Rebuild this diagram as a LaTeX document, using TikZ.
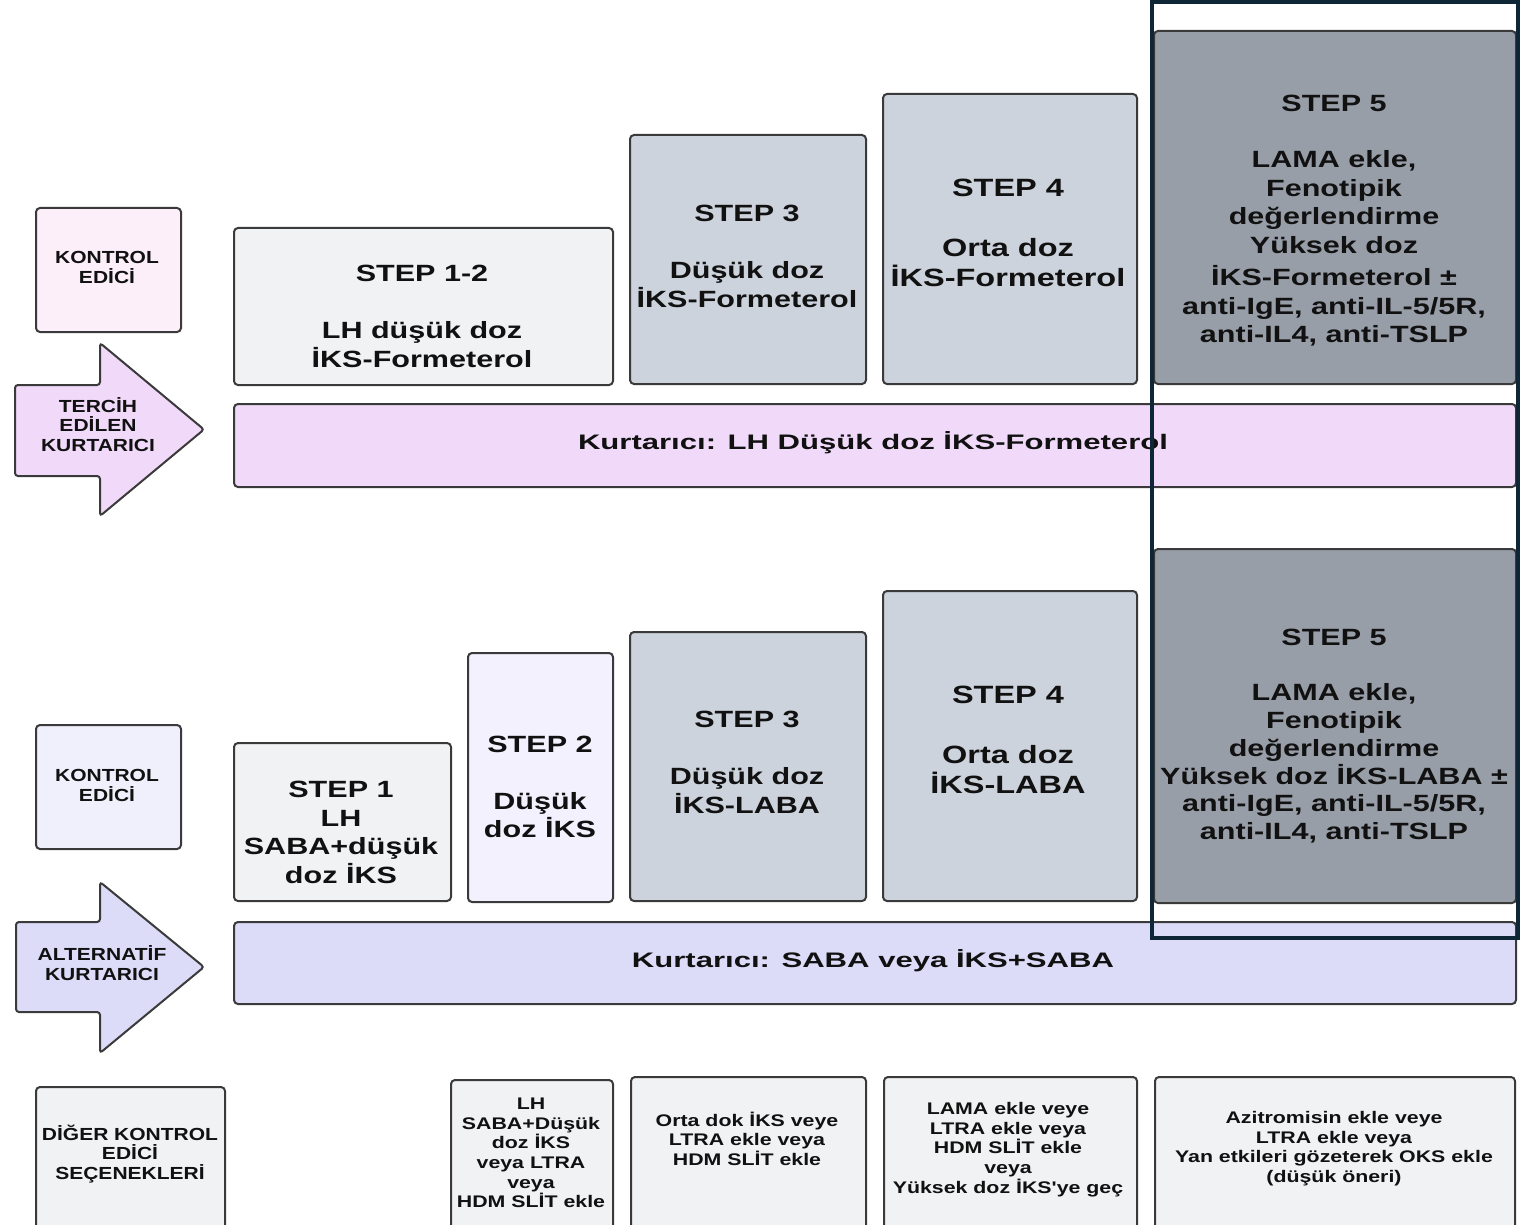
\documentclass[tikz,border=0pt]{standalone}
\usepackage{fontspec}
\setmainfont{Liberation Sans}
\newfontfamily\boxfnt{Liberation Sans}[FakeStretch=1.3]
\newfontfamily\barfnt{Liberation Sans}[FakeStretch=1.48]
\newfontfamily\smlfnt{Liberation Sans}[FakeStretch=1.27]
\newfontfamily\lblfnt{Liberation Sans}[FakeStretch=1.2]
\definecolor{bordc}{HTML}{3A3A3A}
\definecolor{pinkbox}{HTML}{FCEFFA}
\definecolor{pinkbar}{HTML}{F1D9F9}
\definecolor{bluebox}{HTML}{F0F0FD}
\definecolor{bluebar}{HTML}{DCDCF9}
\definecolor{lgray}{HTML}{F1F2F4}
\definecolor{steptwo}{HTML}{F2F1FD}
\definecolor{mgray}{HTML}{CDD3DC}
\definecolor{dgray}{HTML}{989EA8}
\definecolor{framec}{HTML}{0E2636}
\definecolor{txtc}{HTML}{111111}
\tikzset{
  bx/.style={draw=bordc, line width=2pt, rounded corners=4pt, inner sep=0pt, anchor=north west},
  stxt/.style={font=\boxfnt\bfseries\fontsize{23.5}{28.5}\selectfont, align=center, text=txtc, inner sep=0pt},
  stxtc/.style={font=\boxfnt\bfseries\fontsize{23.5}{27.7}\selectfont, align=center, text=txtc, inner sep=0pt},
  stxtb/.style={font=\boxfnt\bfseries\fontsize{25}{30}\selectfont, align=center, text=txtc, inner sep=0pt},
  bartxt/.style={font=\barfnt\bfseries\fontsize{21}{25}\selectfont, align=center, text=txtc, inner sep=0pt},
  smtxt/.style={font=\smlfnt\bfseries\fontsize{16.8}{19.6}\selectfont, align=center, text=txtc, inner sep=0pt},
  lbtxt/.style={font=\lblfnt\bfseries\fontsize{17.5}{19.3}\selectfont, align=center, text=txtc, inner sep=0pt},
  arr/.style={draw=bordc, line width=2pt, rounded corners=3pt},
}
\begin{document}
\begin{tikzpicture}[x=1pt,y=-1pt]
\useasboundingbox (0,0) rectangle (1532,1225);
\fill[white] (0,0) rectangle (1532,1225);
\clip (0,0) rectangle (1532,1225);

% ---------- upper panel ----------
\node[bx, fill=pinkbox, minimum width=145, minimum height=124] (kc1) at (35,207) {};
\node[lbtxt] (kc1t) at (107,267.5) {KONTROL\\EDİCİ};

\draw[arr, fill=pinkbar] (15,385) -- (100,385) -- (100,343) -- (204,429.5) -- (100,516) -- (100,476) -- (15,476) -- cycle;
\node[lbtxt] (terc) at (98,424.5) {TERCİH\\EDİLEN\\KURTARICI};

\node[bx, fill=lgray, minimum width=379, minimum height=157] (s12) at (233,227) {};
\node[stxt] (s12t) at (422,316.5) {STEP 1-2\\[28.5pt]LH düşük doz\\İKS-Formeterol};

\node[bx, fill=mgray, minimum width=236, minimum height=249] (s3a) at (629,134) {};
\node[stxt] (s3at) at (747,256.5) {STEP 3\\[28.5pt]Düşük doz\\İKS-Formeterol};

\node[bx, fill=mgray, minimum width=254, minimum height=290] (s4a) at (882,93) {};
\node[stxtb] (s4at) at (1008,233) {STEP 4\\[30pt]Orta doz\\İKS-Formeterol};

\node[bx, fill=dgray, minimum width=362, minimum height=353] (s5a) at (1153,30) {};
\node[stxt] (s5at) at (1334,220.5) {STEP 5\\[28pt]LAMA ekle,\\Fenotipik\\değerlendirme\\Yüksek doz\\[4pt]İKS-Formeterol ±\\anti-IgE, anti-IL-5/5R,\\anti-IL4, anti-TSLP};

\node[bx, fill=pinkbar, minimum width=1282, minimum height=83] (bar1) at (233,403) {};
\node[bartxt] (bar1t) at (873,443) {Kurtarıcı: LH Düşük doz İKS-Formeterol};

% ---------- lower panel ----------
\node[bx, fill=bluebox, minimum width=145, minimum height=124] (kc2) at (35,724) {};
\node[lbtxt] (kc2t) at (107,785.5) {KONTROL\\EDİCİ};

\draw[arr, fill=bluebar] (16,922) -- (100,922) -- (100,882) -- (204,967) -- (100,1053) -- (100,1012) -- (16,1012) -- cycle;
\node[lbtxt] (alt) at (102,963) {ALTERNATİF\\KURTARICI};

\node[bx, fill=lgray, minimum width=217, minimum height=158] (s1) at (233,742) {};
\node[stxt] (s1t) at (341,832.5) {STEP 1\\LH\\SABA+düşük\\doz İKS};

\node[bx, fill=steptwo, minimum width=145, minimum height=249] (s2) at (467,652) {};
\node[stxt] (s2t) at (540,787) {STEP 2\\[28.5pt]Düşük\\doz İKS};

\node[bx, fill=mgray, minimum width=236, minimum height=269] (s3b) at (629,631) {};
\node[stxt] (s3bt) at (747,762.5) {STEP 3\\[28.5pt]Düşük doz\\İKS-LABA};

\node[bx, fill=mgray, minimum width=254, minimum height=310] (s4b) at (882,590) {};
\node[stxtb] (s4bt) at (1008,740) {STEP 4\\[30pt]Orta doz\\İKS-LABA};

\node[bx, fill=dgray, minimum width=362, minimum height=354] (s5b) at (1153,548) {};
\node[stxtc] (s5bt) at (1334,736) {STEP 5\\[28pt]LAMA ekle,\\Fenotipik\\değerlendirme\\Yüksek doz İKS-LABA ±\\anti-IgE, anti-IL-5/5R,\\anti-IL4, anti-TSLP};

\node[bx, fill=bluebar, minimum width=1282, minimum height=82] (bar2) at (233,921) {};
\node[bartxt] (bar2t) at (873,961) {Kurtarıcı: SABA veya İKS+SABA};

% ---------- other controller options ----------
\node[bx, fill=lgray, minimum width=189, minimum height=160] (dg) at (35,1086) {};
\node[lbtxt] (dgt) at (130,1154) {DİĞER KONTROL\\EDİCİ\\SEÇENEKLERİ};

\node[bx, fill=lgray, minimum width=162, minimum height=170] (o2) at (450,1079) {};
\node[smtxt] (o2t) at (531,1153) {LH\\SABA+Düşük\\doz İKS\\veya LTRA\\veya\\HDM SLİT ekle};

\node[bx, fill=lgray, minimum width=235, minimum height=170] (o3) at (630,1076) {};
\node[smtxt] (o3t) at (747,1138.5) {Orta dok İKS veye\\LTRA ekle veya\\HDM SLİT ekle};

\node[bx, fill=lgray, minimum width=253, minimum height=170] (o4) at (883,1076) {};
\node[smtxt] (o4t) at (1008,1149.5) {LAMA ekle veye\\LTRA ekle veya\\HDM SLİT ekle\\veya\\Yüksek doz İKS'ye geç};

\node[bx, fill=lgray, minimum width=360, minimum height=170] (o5) at (1154,1076) {};
\node[smtxt] (o5t) at (1334,1148.5) {Azitromisin ekle veye\\LTRA ekle veya\\Yan etkileri gözeterek OKS ekle\\(düşük öneri)};

% ---------- highlight frame ----------
\draw[draw=framec, line width=3.5pt] (1152,2) rectangle (1518,938);
\end{tikzpicture}
\end{document}
